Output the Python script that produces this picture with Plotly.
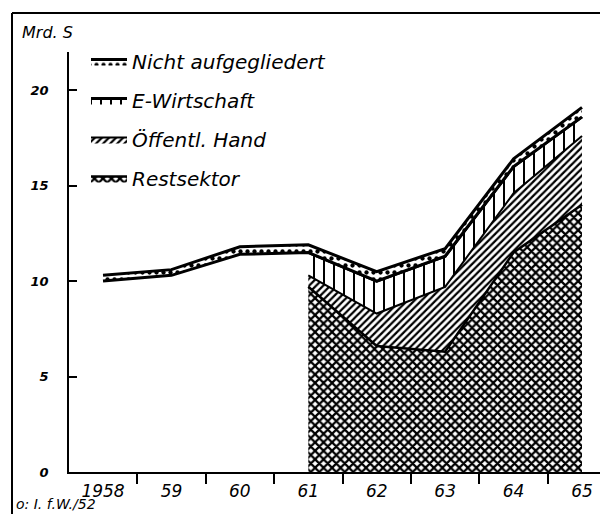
import plotly.graph_objects as go

# ---- data (Mrd. S) ----
jahre = [1958, 1959, 1960, 1961, 1962, 1963, 1964, 1965]
jahre_aufgegliedert = [1961, 1962, 1963, 1964, 1965]
restsektor = [9.7, 6.6, 6.3, 11.5, 14.0]
oeffentl_hand = [0.6, 1.7, 3.4, 3.1, 3.6]
e_wirtschaft = [1.2, 1.7, 1.6, 1.4, 1.0]
# lower edge of the "nicht aufgegliedert" band (all years) and the total
unterkante_band = [10.0, 10.3, 11.4, 11.5, 10.0, 11.3, 16.0, 18.6]
gesamt = [10.3, 10.6, 11.8, 11.9, 10.5, 11.7, 16.4, 19.1]
x_labels = ["1958", "59", "60", "61", "62", "63", "64", "65"]
y_ticks = [0, 5, 10, 15, 20]

cum_r = restsektor
cum_o = [a + b for a, b in zip(cum_r, oeffentl_hand)]
cum_e = [a + b for a, b in zip(cum_o, e_wirtschaft)]

FONT = "DejaVu Sans"
fig = go.Figure()

fig.add_trace(go.Scatter(
    x=jahre_aufgegliedert, y=cum_r, name="Restsektor", mode="lines",
    line=dict(color="black", width=2.5), fill="tozeroy", fillcolor="white",
    fillpattern=dict(shape="x", fgcolor="black", bgcolor="white", size=6, solidity=0.6),
    legendgroup="r", legendrank=4))
fig.add_trace(go.Scatter(
    x=jahre_aufgegliedert, y=cum_o, name="Öffentl. Hand", mode="lines",
    line=dict(color="black", width=2), fill="tonexty", fillcolor="white",
    fillpattern=dict(shape="/", fgcolor="black", bgcolor="white", size=5, solidity=0.45),
    legendgroup="o", legendrank=3))
fig.add_trace(go.Scatter(
    x=jahre_aufgegliedert, y=cum_e, name="E-Wirtschaft", mode="lines",
    line=dict(color="black", width=3), fill="tonexty", fillcolor="white",
    fillpattern=dict(shape="|", fgcolor="black", bgcolor="white", size=10, solidity=0.2),
    legendgroup="e", legendrank=2))
fig.add_trace(go.Scatter(
    x=jahre, y=unterkante_band, mode="lines", showlegend=False,
    line=dict(color="black", width=3), hoverinfo="skip"))
fig.add_trace(go.Scatter(
    x=jahre, y=gesamt, name="Nicht aufgegliedert", mode="lines",
    line=dict(color="black", width=3), fill="tonexty", fillcolor="white",
    fillpattern=dict(shape=".", fgcolor="black", bgcolor="white", size=7, solidity=0.3),
    legendgroup="n", legendrank=1))

# the page body has an 8px margin, so the figure is 600x506 and
# reference pixel positions are converted with an 8px offset
OFF = 8
W, H = 600, 506
L, T, B = 61, 44, 42
pw, ph = W - L, H - T - B

def px(xr):
    return (xr - OFF - L) / pw

def py(yr):
    return (H - B - (yr - OFF)) / ph

fig.update_layout(
    template="none",
    width=W, height=H,
    margin=dict(l=L, r=0, t=T, b=B, pad=0, autoexpand=False),
    paper_bgcolor="white", plot_bgcolor="white",
    showlegend=True,
    legend=dict(x=px(86), y=py(42), xanchor="left", yanchor="top",
                traceorder="grouped", tracegroupgap=10,
                font=dict(family=FONT, size=20, color="black", style="italic"),
                bgcolor="rgba(0,0,0,0)", itemwidth=36, borderwidth=0),
    xaxis=dict(range=[1957.503, 1965.38], showgrid=False, zeroline=False, automargin=False,
               showline=True, linecolor="black", linewidth=2,
               tickmode="array", tickvals=jahre, ticktext=x_labels, ticks="",
               tickfont=dict(family=FONT, size=17, color="black", style="italic"),
               ticklabelstandoff=3,
               minor=dict(tickmode="array", tickvals=[y + 0.5 for y in jahre[:-1]],
                          ticks="outside", ticklen=10, tickwidth=1.5, tickcolor="black",
                          showgrid=False)),
    yaxis=dict(range=[0, 22], showgrid=False, zeroline=False, automargin=False,
               showline=True, linecolor="black", linewidth=1.5,
               tickmode="array", tickvals=y_ticks, ticks="inside", ticklen=8,
               tickwidth=1.5, tickcolor="black",
               tickfont=dict(family=FONT, size=13, color="black", style="italic", weight="bold"),
               ticklabelstandoff=16),
)

# frame of the scanned figure
fig.add_shape(type="line", xref="paper", yref="paper", x0=px(12), x1=px(12),
              y0=py(13), y1=py(514), line=dict(color="black", width=2))
fig.add_shape(type="line", xref="paper", yref="paper", x0=px(12), x1=px(608),
              y0=py(13), y1=py(13), line=dict(color="black", width=2))

fig.add_annotation(text="Mrd. S", xref="paper", yref="paper", x=px(20), y=py(33),
                   xanchor="left", yanchor="middle", showarrow=False,
                   font=dict(family=FONT, size=16, color="black", style="italic"))
fig.add_annotation(text="o: I. f.W./52", xref="paper", yref="paper", x=px(14), y=py(504),
                   xanchor="left", yanchor="middle", showarrow=False,
                   font=dict(family=FONT, size=14, color="black", style="italic"))

fig.write_html("out.html")
